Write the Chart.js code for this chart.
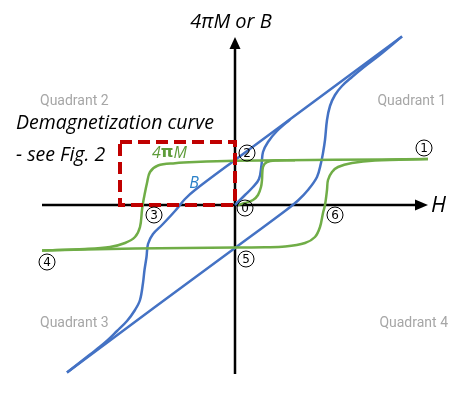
<!DOCTYPE html>
<html><head><meta charset="utf-8">
<script src="https://cdn.jsdelivr.net/npm/chart.js@4/dist/chart.umd.min.js"></script>
<style>html,body{margin:0;padding:0;background:#fff}#wrap{width:471px;height:394px;position:relative}</style>
</head><body><div id="wrap"><canvas id="c"></canvas></div>
<script>
// ---- data (H and 4πM / B, arbitrary units; origin = axis crossing) ----
const greenInitH = [0.3, 1.0, 1.8, 2.3, 2.6, 2.7, 2.8, 3.2, 4.2, 6.0];
const greenInitM = [0.0, 0.2, 0.5, 1.0, 1.8, 2.5, 3.8, 4.3, 4.45, 4.47];

const greenDownH = [19.3, 10, 0, -4, -6, -7.7, -8.5, -8.8, -9.05, -9.2, -9.3, -9.5, -10.0, -11.0, -12.5, -15, -19.3];
const greenDownM = [4.6, 4.52, 4.42, 4.3, 4.18, 3.95, 3.3, 2.2, 1.0, 0.2, -0.5, -2.2, -3.2, -3.8, -4.2, -4.4, -4.55];

const greenUpH = [-19.3, -15, -10, -5, 0, 3, 5, 7, 8, 8.5, 8.8, 9.0, 9.2, 9.3, 9.7, 10.3, 11.7, 14, 19.3];
const greenUpM = [-4.55, -4.45, -4.35, -4.3, -4.25, -4.22, -4.15, -3.8, -3.2, -2.2, -0.8, 0.0, 1.5, 2.5, 3.3, 3.8, 4.2, 4.45, 4.6];

const blueInitH = [0, 1.0, 1.8, 2.4, 2.65, 2.8, 3.3, 4.2, 5.5];
const blueInitB = [0, 1.0, 1.8, 2.6, 4.0, 5.3, 6.3, 7.4, 8.55];

const blueDownH = [16.7, 10, 5, 0, -4, -5, -6, -7.3, -8.2, -8.7, -8.85, -9.05, -9.2, -9.5, -10.0, -10.8, -11.8, -13.0, -14.5, -16.8];
const blueDownB = [16.86, 11.9, 8.2, 4.5, 1.5, 0.6, -0.6, -2.0, -2.9, -3.9, -5.2, -6.5, -7.8, -9.5, -10.5, -11.6, -12.6, -13.75, -14.95, -16.75];

const blueUpH = [-16.8, -8, 0, 5.0, 6.3, 7.3, 8.2, 8.6, 8.8, 9.0, 9.2, 9.5, 10.0, 10.7, 11.7, 12.9, 14.4, 16.7];
const blueUpB = [-16.75, -10.2, -4.3, -0.6, 0.45, 1.5, 2.8, 4.2, 5.2, 6.5, 8.5, 9.9, 11.0, 11.9, 12.8, 13.8, 14.95, 16.86];

// circled point labels
const pointLabels = ['0', '1', '2', '3', '4', '5', '6'];
const pointLabelH = [1.0, 18.9, 1.2, -8.1, -18.8, 1.1, 10.0];
const pointLabelB = [-0.3, 5.7, 5.2, -1.0, -5.7, -5.4, -1.0];

const quadrantLabels = ['Quadrant 1', 'Quadrant 2', 'Quadrant 3', 'Quadrant 4'];

// ---- helpers ----
function pts(xs, ys) { return xs.map((x, i) => ({ x: x, y: ys[i] })); }
const GREEN = '#70AD47', BLUE = '#4472C4';

function line(label, xs, ys, color) {
  return { label: label, data: pts(xs, ys), showLine: true, borderColor: color,
           backgroundColor: color, borderWidth: 2.5, pointRadius: 0, tension: 0.35, fill: false };
}

const overlay = {
  id: 'overlay',
  beforeDatasetsDraw(chart) {
    const ctx = chart.ctx, xs = chart.scales.x, ys = chart.scales.y;
    const x0 = xs.getPixelForValue(0), y0 = ys.getPixelForValue(0);
    ctx.save();
    ctx.strokeStyle = '#000'; ctx.fillStyle = '#000'; ctx.lineWidth = 2.5;
    // H axis
    const xl = xs.getPixelForValue(-19.3), xr = xs.getPixelForValue(19.3);
    ctx.beginPath(); ctx.moveTo(xl, y0); ctx.lineTo(xr - 12, y0); ctx.stroke();
    ctx.beginPath(); ctx.moveTo(xr, y0); ctx.lineTo(xr - 13, y0 - 5.5); ctx.lineTo(xr - 13, y0 + 5.5); ctx.closePath(); ctx.fill();
    // 4πM / B axis
    const yb = ys.getPixelForValue(-16.9), yt = ys.getPixelForValue(16.8);
    ctx.beginPath(); ctx.moveTo(x0, yb); ctx.lineTo(x0, yt + 11); ctx.stroke();
    ctx.beginPath(); ctx.moveTo(x0, yt); ctx.lineTo(x0 - 5.5, yt + 12); ctx.lineTo(x0 + 5.5, yt + 12); ctx.closePath(); ctx.fill();
    ctx.restore();
  },
  afterDatasetsDraw(chart) {
    const ctx = chart.ctx, xs = chart.scales.x, ys = chart.scales.y;
    const px = v => xs.getPixelForValue(v), py = v => ys.getPixelForValue(v);
    ctx.save();
    // red dashed demagnetization box
    ctx.strokeStyle = '#C00000'; ctx.lineWidth = 4; ctx.setLineDash([12, 6]);
    ctx.strokeRect(px(-11.5), py(6.3), px(0) - px(-11.5), py(0) - py(6.3));
    ctx.setLineDash([]);
    // circled labels
    ctx.lineWidth = 1; ctx.strokeStyle = '#000'; ctx.fillStyle = '#000';
    ctx.font = '12px "DejaVu Sans", sans-serif'; ctx.textAlign = 'center'; ctx.textBaseline = 'middle';
    pointLabels.forEach((t, i) => {
      const cx = px(pointLabelH[i]), cy = py(pointLabelB[i]);
      ctx.beginPath(); ctx.arc(cx, cy, 8, 0, Math.PI * 2); ctx.stroke();
      ctx.fillText(t, cx, cy + 0.5);
    });
    // axis titles
    ctx.font = 'italic 20px "Open Sans", sans-serif';
    ctx.fillText('4\u03C0M or B', 231, 22);
    ctx.font = 'italic 22px "Open Sans", sans-serif'; ctx.textAlign = 'left';
    ctx.fillText('H', 431, 206);
    // quadrant labels
    ctx.fillStyle = '#A6A6A6'; ctx.font = '14px Roboto, sans-serif';
    ctx.textAlign = 'right';
    ctx.fillText(quadrantLabels[0], 446, 101);
    ctx.textAlign = 'left';
    ctx.fillText(quadrantLabels[1], 40, 101);
    ctx.fillText(quadrantLabels[2], 40, 323);
    ctx.textAlign = 'right';
    ctx.fillText(quadrantLabels[3], 448, 323);
    // demagnetization note
    ctx.fillStyle = '#000'; ctx.textAlign = 'left';
    ctx.font = 'italic 19.5px "Open Sans", sans-serif';
    ctx.fillText('Demagnetization curve', 16, 123);
    ctx.fillText('- see Fig. 2', 16, 155);
    // curve labels
    ctx.fillStyle = '#5E9C3A';
    let x = 152;
    ctx.font = 'italic 16px "Open Sans", sans-serif'; ctx.fillText('4', x, 153); x += ctx.measureText('4').width;
    ctx.font = 'bold 16px "DejaVu Sans", sans-serif'; ctx.fillText('\u03C0', x, 153); x += ctx.measureText('\u03C0').width;
    ctx.font = 'italic 16px "Open Sans", sans-serif'; ctx.fillText('M', x, 153);
    ctx.fillStyle = '#2A80C8'; ctx.textAlign = 'center';
    ctx.fillText('B', 194, 183);
    ctx.restore();
  }
};

new Chart(document.getElementById('c'), {
  type: 'scatter',
  data: { datasets: [
    line('4πM initial', greenInitH, greenInitM, GREEN),
    line('4πM descending', greenDownH, greenDownM, GREEN),
    line('4πM ascending', greenUpH, greenUpM, GREEN),
    line('B initial', blueInitH, blueInitB, BLUE),
    line('B descending', blueDownH, blueDownB, BLUE),
    line('B ascending', blueUpH, blueUpB, BLUE)
  ] },
  options: {
    responsive: true, maintainAspectRatio: false, animation: false,
    layout: { padding: 0 },
    plugins: { legend: { display: false }, tooltip: { enabled: false } },
    scales: {
      x: { type: 'linear', min: -23.5, max: 23.6, display: false },
      y: { type: 'linear', min: -18.9, max: 20.5, display: false }
    }
  },
  plugins: [overlay]
});
</script>
</body></html>
